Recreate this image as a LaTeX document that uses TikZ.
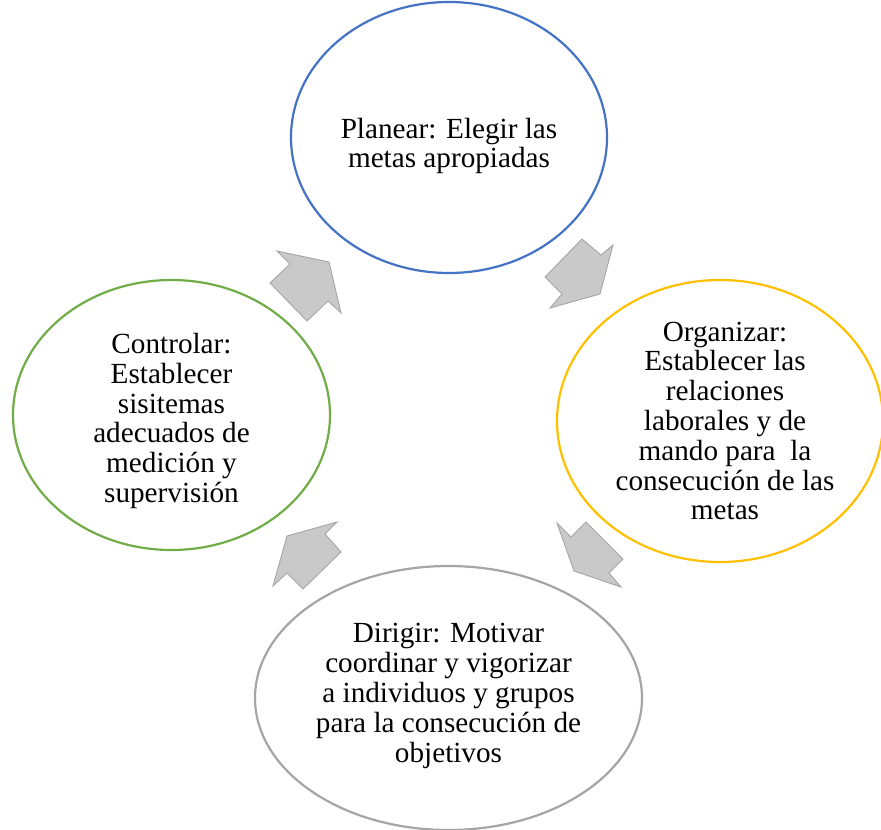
\documentclass[tikz,border=0pt]{standalone}
\usepackage{fontspec}
\setmainfont{Liberation Serif}
\usetikzlibrary{shapes.geometric}
\definecolor{cblue}{HTML}{4472C4}
\definecolor{cyellow}{HTML}{FFC000}
\definecolor{cgreen}{HTML}{70AD47}
\definecolor{cgray}{HTML}{A5A5A5}
\definecolor{afill}{HTML}{C9C9C9}
\definecolor{aline}{HTML}{A5A5A5}
\begin{document}
\begin{tikzpicture}[x=1pt,y=-1pt,
  stage/.style={ellipse, line width=2.2pt, fill=white, inner sep=0pt},
  label/.style={align=center, inner sep=0pt, font=\fontsize{29.2}{29.8}\selectfont},
  blockarrow/.style={fill=afill, draw=aline, line width=0.9pt, line join=miter}]
\useasboundingbox (0,0) rectangle (881,830);
\begin{scope}
\clip (0,0) rectangle (881,830);
\node[stage, draw=cblue, minimum width=316pt, minimum height=271pt] (plan) at (449,137.5) {};
\node[stage, draw=cyellow, minimum width=326pt, minimum height=282pt] (org) at (720,421) {};
\node[stage, draw=cgreen, minimum width=317pt, minimum height=270pt] (ctrl) at (171.5,415) {};
\node[stage, draw=cgray, minimum width=387pt, minimum height=264pt] (dir) at (448.5,698) {};
\end{scope}
\node[label] (tplan) at (449,146) {Planear: Elegir las\\metas apropiadas};
\node[label] (torg) at (725,421) {Organizar:\\Establecer las\\relaciones\\laborales y de\\mando para\ \ la\\consecución de las\\metas};
\node[label] (tctrl) at (171.5,421) {Controlar:\\Establecer\\sisitemas\\adecuados de\\medición y\\supervisión};
\node[label] (tdir) at (448.5,696) {Dirigir: Motivar\\coordinar y vigorizar\\a individuos y grupos\\para la consecución de\\objetivos};
% cycle arrows
\draw[blockarrow] (277,251) -- (329,262) -- (341,313) -- (328,301) -- (307,321) -- (270,283) -- (290,264) -- cycle;
\draw[blockarrow] (582,239) -- (601,255) -- (613,245) -- (600,294) -- (550,308) -- (562,294) -- (545,277) -- cycle;
\draw[blockarrow] (557,523) -- (571,537) -- (586,522) -- (623,559) -- (609,573) -- (621,587) -- (574,571) -- cycle;
\draw[blockarrow] (337,522) -- (325,534) -- (341,552) -- (303,589) -- (287,573) -- (273,586) -- (287,536) -- cycle;
\end{tikzpicture}
\end{document}
